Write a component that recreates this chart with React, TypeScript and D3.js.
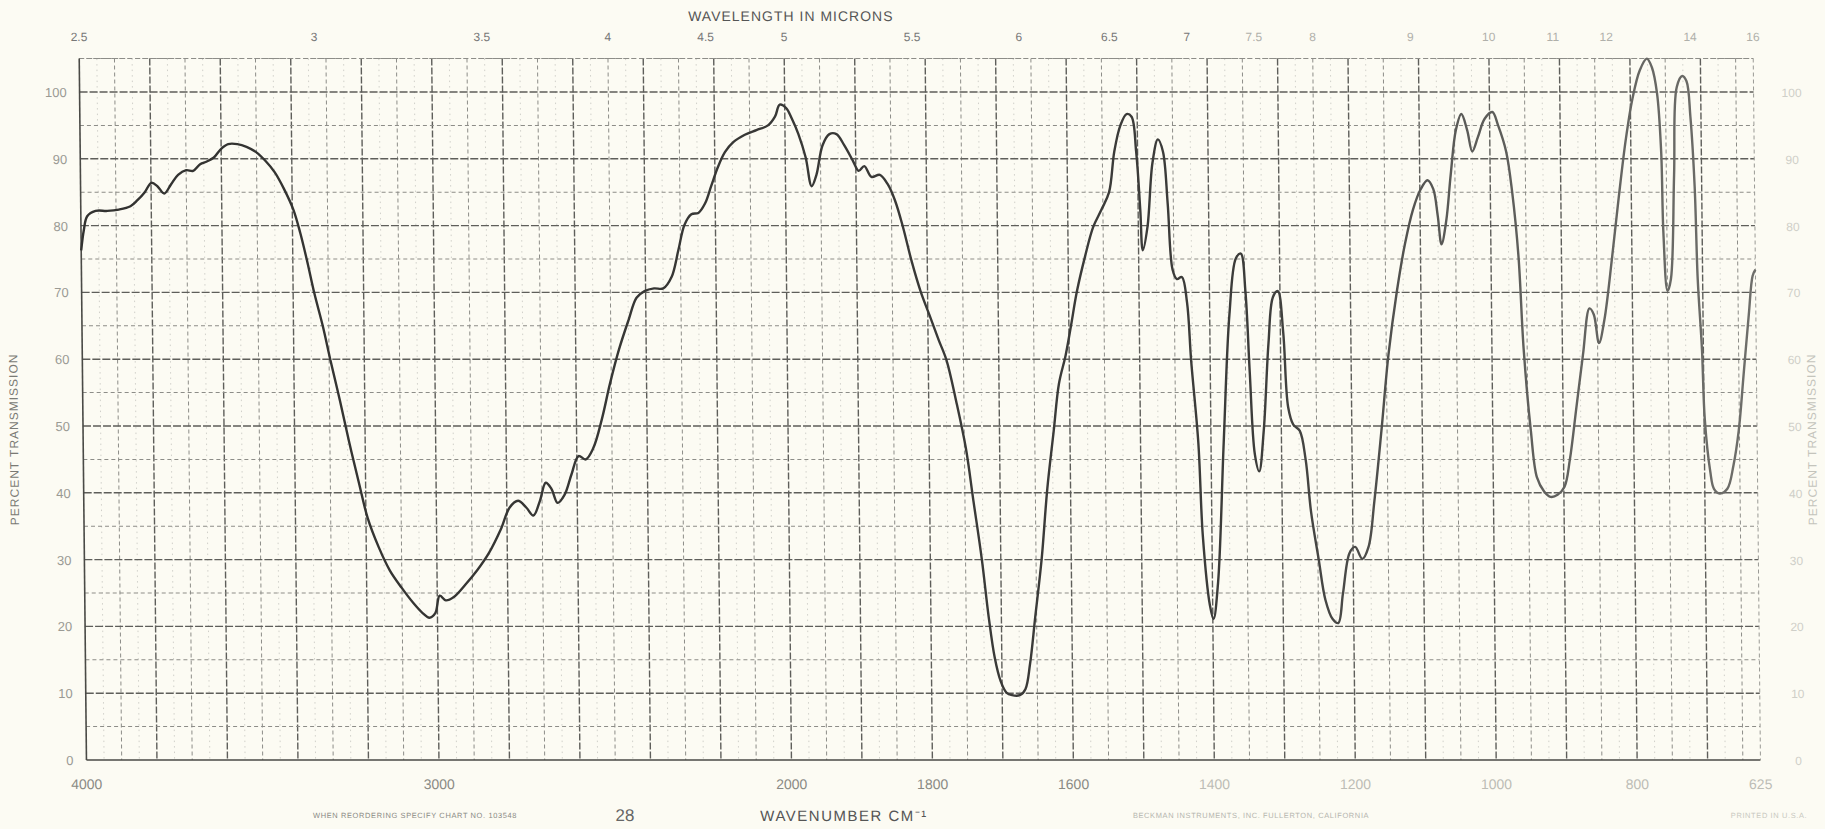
import React from 'react';
import * as d3 from 'd3';

// spectrum: wavenumber (cm-1) and percent transmission
const wavenumbers = [
  4000, 3992, 3982, 3958, 3925, 3892, 3859, 3839, 3818, 3799, 3782, 3763, 3743, 3723, 3700, 3680,
  3660, 3641, 3621, 3600, 3580, 3554, 3528, 3501, 3475, 3449, 3423, 3397, 3378, 3359, 3340, 3317,
  3296, 3270, 3245, 3219, 3195, 3165, 3134, 3101, 3068, 3042, 3023, 3006, 2993, 2976, 2953, 2919,
  2886, 2852, 2818, 2792, 2768, 2745, 2725, 2706, 2689, 2673, 2656, 2636, 2616, 2595, 2575, 2553,
  2528, 2504, 2477, 2449, 2426, 2403, 2376, 2350, 2326, 2306, 2288, 2268, 2248, 2229, 2211, 2191,
  2171, 2147, 2114, 2081, 2048, 2028, 2014, 1998, 1990, 1981, 1971, 1963, 1956, 1947, 1937, 1927,
  1916, 1904, 1896, 1888, 1878, 1866, 1855, 1845, 1834, 1822, 1810, 1798, 1785, 1774, 1761, 1748,
  1738, 1727, 1718, 1710, 1702, 1694, 1686, 1675, 1667, 1660, 1652, 1642, 1633, 1623, 1615, 1605,
  1597, 1588, 1576, 1564, 1552, 1541, 1533, 1524, 1515, 1508, 1502, 1497, 1494, 1487, 1479, 1471,
  1464, 1458, 1452, 1446, 1439, 1432, 1427, 1418, 1413, 1404, 1399, 1392, 1382, 1372, 1362, 1355,
  1349, 1344, 1338, 1332, 1325, 1317, 1310, 1303, 1296, 1290, 1283, 1274, 1266, 1259, 1249, 1240,
  1230, 1222, 1215, 1205, 1197, 1187, 1178, 1169, 1158, 1147, 1134, 1122, 1110, 1099, 1089, 1081,
  1075, 1070, 1063, 1056, 1048, 1040, 1032, 1025, 1017, 1007, 996, 988, 977, 969, 961, 955,
  946, 938, 928, 919, 909, 899, 891, 881, 871, 861, 855, 848, 840, 828, 818, 807,
  797, 786, 776, 769, 762, 757, 755, 750, 745, 739, 734, 726, 720, 715, 710, 707,
  702, 699, 692, 687, 679, 668, 659, 651, 643, 635, 629, 625
];
const transmission = [
  76.3, 79.3, 81.4, 82.2, 82.2, 82.4, 82.9, 83.8, 85.0, 86.4, 85.9, 84.8, 86.2, 87.6, 88.3, 88.2,
  89.2, 89.6, 90.2, 91.5, 92.2, 92.2, 91.8, 91.0, 89.7, 88.0, 85.5, 82.4, 78.9, 74.6, 69.9, 65.0,
  59.8, 53.7, 47.5, 41.5, 36.2, 31.9, 28.4, 25.8, 23.5, 22.0, 21.3, 22.0, 24.6, 23.9, 24.4, 26.3,
  28.4, 31.0, 34.5, 37.8, 38.8, 37.8, 36.6, 38.8, 41.5, 40.6, 38.5, 39.7, 42.7, 45.5, 45.0, 46.7,
  51.0, 56.3, 61.5, 65.9, 69.2, 70.2, 70.6, 70.6, 72.3, 76.3, 80.1, 81.7, 81.9, 83.3, 85.9, 88.8,
  91.0, 92.5, 93.6, 94.3, 95.0, 96.3, 98.1, 97.6, 96.0, 93.7, 90.2, 85.9, 87.6, 92.0, 93.7, 93.7,
  92.0, 89.7, 88.2, 88.9, 87.3, 87.6, 86.2, 83.8, 79.8, 74.6, 70.2, 66.7, 62.9, 59.8, 53.7, 46.7,
  38.8, 30.1, 21.4, 15.3, 11.8, 10.1, 9.7, 9.7, 10.6, 14.4, 21.4, 30.1, 40.6, 49.3, 56.3, 60.6,
  65.0, 70.2, 75.4, 79.8, 82.4, 85.0, 91.1, 95.0, 96.7, 96.3, 91.1, 82.4, 76.3, 79.8, 89.4, 92.9,
  91.1, 83.3, 73.4, 72.0, 72.3, 68.5, 59.8, 47.5, 33.6, 23.2, 21.1, 26.6, 47.5, 66.7, 75.1, 75.8,
  70.2, 58.0, 45.8, 43.2, 49.3, 62.4, 69.3, 70.2, 64.1, 52.8, 50.2, 49.3, 45.0, 37.1, 30.1, 24.0,
  21.1, 20.5, 24.9, 31.0, 31.9, 30.1, 31.9, 38.8, 49.3, 60.6, 70.2, 77.2, 82.4, 85.4, 86.8, 85.5,
  81.5, 77.2, 80.7, 87.6, 94.3, 96.7, 94.3, 91.1, 93.2, 96.0, 97.0, 95.0, 91.1, 85.0, 75.4, 61.5,
  49.3, 42.3, 40.2, 39.4, 39.7, 40.9, 45.0, 52.8, 60.6, 67.6, 66.7, 62.4, 65.9, 75.4, 84.1, 92.9,
  99.0, 103.3, 105.0, 103.7, 99.8, 91.1, 78.9, 70.2, 72.0, 87.6, 100.7, 102.4, 101.6, 96.3, 85.9, 72.0,
  61.5, 51.0, 43.2, 40.6, 39.9, 40.6, 44.1, 49.3, 58.0, 66.7, 72.5, 73.4
];

const wavenumberTicks = [4000, 3000, 2000, 1800, 1600, 1400, 1200, 1000, 800, 625];
const micronTicks = [2.5, 3, 3.5, 4, 4.5, 5, 5.5, 6, 6.5, 7, 7.5, 8, 9, 10, 11, 12, 14, 16];
const percentTicks = [0, 10, 20, 30, 40, 50, 60, 70, 80, 90, 100];

const paper = '#fcfbf3';

const App = () => {
  const x = d3.scaleLinear().domain([4000, 2000, 625]).range([83, 788, 1757]);
  const y = d3.scaleLinear().domain([0, 100]).range([760, 92]);
  const yTop = y(105);
  const yBot = y(0);

  // chart paper grid
  const vMajor: number[] = [];
  const vMinor: number[] = [];
  const vFine: number[] = [];
  for (let wn = 3950; wn >= 2000; wn -= 50) {
    if (wn % 200 === 0) vMajor.push(wn);
    else if (wn % 100 === 0) vMinor.push(wn);
    else vFine.push(wn);
  }
  for (let wn = 1975; wn > 625; wn -= 25) {
    if (wn % 100 === 0) vMajor.push(wn);
    else if (wn % 50 === 0) vMinor.push(wn);
    else vFine.push(wn);
  }
  const hMajor = d3.range(10, 101, 10);
  const hMinor = d3.range(5, 106, 10);

  const data = wavenumbers.map((wn, i) => [wn, transmission[i]] as [number, number]);
  const line = d3
    .line<[number, number]>()
    .x(d => x(d[0]))
    .y(d => y(Math.min(d[1], 105)))
    .curve(d3.curveCatmullRom.alpha(0.5));

  const font = 'Liberation Sans, Arial, sans-serif';

  return (
    <svg
      width={1825}
      height={829}
      style={{ position: 'fixed', left: 0, top: 0, background: paper }}
    >
      <defs>
        <linearGradient id="pen" gradientUnits="userSpaceOnUse" x1={x(4000)} x2={x(625)} y1={0} y2={0}>
          <stop offset="0" stopColor="#323230" />
          <stop offset="0.7" stopColor="#3c3c3a" />
          <stop offset="0.82" stopColor="#5a5a57" />
          <stop offset="1" stopColor="#6e6e6a" />
        </linearGradient>
      </defs>
      <rect width={1825} height={829} fill={paper} />
      <g transform="translate(0,425) skewX(0.59) translate(0,-425)">
        {vFine.map(wn => (
          <line key={'vf' + wn} x1={x(wn)} x2={x(wn)} y1={yTop} y2={yBot}
            stroke="#bdbdb8" strokeWidth={0.7} strokeDasharray="1.5 4" />
        ))}
        {vMinor.map(wn => (
          <line key={'vm' + wn} x1={x(wn)} x2={x(wn)} y1={yTop} y2={yBot}
            stroke="#8d8d88" strokeWidth={1} strokeDasharray="4 3" />
        ))}
        {vMajor.map(wn => (
          <line key={'vM' + wn} x1={x(wn)} x2={x(wn)} y1={yTop} y2={yBot}
            stroke="#5e5e5a" strokeWidth={1.4} strokeDasharray="7 2" />
        ))}
        {hMinor.map(p => (
          <line key={'hm' + p} x1={x(4000)} x2={x(625)} y1={y(p)} y2={y(p)}
            stroke="#8d8d88" strokeWidth={1} strokeDasharray="4 3" />
        ))}
        {hMajor.map(p => (
          <line key={'hM' + p} x1={x(4000)} x2={x(625)} y1={y(p)} y2={y(p)}
            stroke="#5e5e5a" strokeWidth={1.4} strokeDasharray="8 2" />
        ))}
        <line x1={x(4000)} x2={x(625)} y1={yBot} y2={yBot} stroke="#4a4a46" strokeWidth={1.6} />
        <line x1={x(4000)} x2={x(625)} y1={yTop} y2={yTop} stroke="#8d8d88" strokeWidth={1} strokeDasharray="5 3" />
        <line x1={x(4000)} x2={x(4000)} y1={yTop} y2={yBot} stroke="#4a4a46" strokeWidth={1.6} />
        <line x1={x(625)} x2={x(625)} y1={yTop} y2={yBot} stroke="#9a9a95" strokeWidth={1} strokeDasharray="4 3" />

        <path d={line(data) || ''} fill="none" stroke="url(#pen)" strokeWidth={2.4} strokeLinejoin="round" />

        {/* top axis: wavelength */}
        <text x={795} y={21} textAnchor="middle" fontFamily={font} fontSize={14}
          letterSpacing={1} fill="#555">WAVELENGTH IN MICRONS</text>
        {micronTicks.map(m => (
          <text key={'mu' + m} x={x(1e4 / m)} y={41} textAnchor="middle" fontFamily={font}
            fontSize={12} fill={m > 7 ? '#b0b0aa' : '#777'}>{String(m)}</text>
        ))}

        {/* left axis */}
        {percentTicks.map(p => (
          <text key={'pl' + p} x={70} y={y(p) + 5} textAnchor="end" fontFamily={font}
            fontSize={13} fill="#9a9a94">{p}</text>
        ))}
        <text transform={`translate(18,${y(48)}) rotate(-90)`} textAnchor="middle" fontFamily={font}
          fontSize={12} letterSpacing={1} fill="#7a7a74">PERCENT TRANSMISSION</text>

        {/* right axis */}
        {percentTicks.map(p => (
          <text key={'pr' + p} x={1795} y={y(p) + 5} textAnchor="middle" fontFamily={font}
            fontSize={12} fill="#cfcfc8">{p}</text>
        ))}
        <text transform={`translate(1816,${y(48)}) rotate(-90)`} textAnchor="middle" fontFamily={font}
          fontSize={12} letterSpacing={1} fill="#c4c4bc">PERCENT TRANSMISSION</text>

        {/* bottom axis: wavenumber */}
        {wavenumberTicks.map(wn => (
          <text key={'wn' + wn} x={x(wn)} y={789} textAnchor="middle" fontFamily={font}
            fontSize={14} fill={wn < 1500 ? '#bdbdb6' : '#8a8a84'}>{wn}</text>
        ))}
        <text x={840} y={821} textAnchor="middle" fontFamily={font} fontSize={15}
          letterSpacing={1.5} fill="#555">WAVENUMBER CM⁻¹</text>
        <text x={621} y={821} textAnchor="middle" fontFamily={font} fontSize={17} fill="#666">28</text>
        <text x={411} y={818} textAnchor="middle" fontFamily={font} fontSize={7.5}
          letterSpacing={0.6} fill="#8a8a84">WHEN REORDERING SPECIFY CHART NO. 103548</text>
        <text x={1247} y={818} textAnchor="middle" fontFamily={font} fontSize={7.5}
          letterSpacing={0.6} fill="#b5b5ae">BECKMAN INSTRUMENTS, INC. FULLERTON, CALIFORNIA</text>
        <text x={1765} y={818} textAnchor="middle" fontFamily={font} fontSize={7.5}
          letterSpacing={0.6} fill="#c8c8c0">PRINTED IN U.S.A.</text>
      </g>
    </svg>
  );
};

export default App;
